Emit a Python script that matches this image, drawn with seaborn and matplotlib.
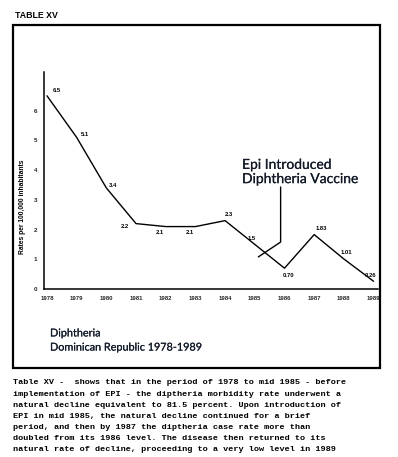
import matplotlib
matplotlib.use("Agg")
import matplotlib.pyplot as plt
import matplotlib.patheffects as pe
import seaborn as sns
import pandas as pd
from matplotlib.patches import Rectangle

# ---- data ----
years = [1978, 1979, 1980, 1981, 1982, 1983, 1984, 1985, 1986, 1987, 1988, 1989]
rates = [6.5, 5.1, 3.4, 2.2, 2.1, 2.1, 2.3, 1.5, 0.70, 1.83, 1.01, 0.26]
value_labels = ["6.5", "5.1", "3.4", "2.2", "2.1", "2.1", "2.3", "1.5", "0.70", "1.83", "1.01", "0.26"]
y_ticks = [0, 1, 2, 3, 4, 5, 6]
table_title = "TABLE XV"
y_title = "Rates per 100,000 inhabitants"
chart_title = "Diphtheria\nDominican Republic 1978-1989"
note_text = "Epi Introduced\nDiphtheria Vaccine"
caption_lines = [
    "Table XV -  shows that in the period of 1978 to mid 1985 - before",
    "implementation of EPI - the diptheria morbidity rate underwent a",
    "natural decline equivalent to 81.5 percent. Upon introduction of",
    "EPI in mid 1985, the natural decline continued for a brief",
    "period, and then by 1987 the diptheria case rate more than",
    "doubled from its 1986 level. The disease then returned to its",
    "natural rate of decline, proceeding to a very low level in 1989",
]

df = pd.DataFrame({"year": years, "rate": rates})

sns.set_style("white")
plt.rcParams["font.family"] = ["Liberation Sans", "DejaVu Sans"]

W, H = 398, 457
fig = plt.figure(figsize=(W / 100, H / 100), dpi=100)
fig.patch.set_facecolor("white")

def fx(px):
    return px / W

def fy(py):
    return 1 - py / H

ax = fig.add_axes([fx(44), fy(289), (378 - 44) / W, (289 - 72) / H])
sns.lineplot(data=df, x="year", y="rate", ax=ax, color="black", linewidth=1.0)
ax.set_xlim(1977.9, 1989.15)
ax.set_ylim(0, 7.3)
ax.set_xticks(years)
ax.set_xticklabels([str(y) for y in years], fontsize=4.3, fontweight="bold")
ax.set_yticks(y_ticks)
ax.set_yticklabels([str(t) for t in y_ticks], fontsize=4.5, fontweight="bold")
ax.tick_params(axis="both", length=3, width=0.9, pad=2, color="black", direction="out")
ax.set_xlabel("")
ax.set_ylabel("")
for s in ["top", "right"]:
    ax.spines[s].set_visible(False)
for s in ["left", "bottom"]:
    ax.spines[s].set_color("black")
    ax.spines[s].set_linewidth(1.1)
ax.patch.set_alpha(0)

# value labels (offsets in points: style only)
label_offsets = [(4, 4, "left"), (3, 2, "left"), (2, 2, "left"), (-5, -2, "right"),
                 (-4, -4, "center"), (-4, -4, "center"), (3, 4.5, "center"), (-2, 4.5, "center"),
                 (3, -5, "center"), (5, 4.5, "center"), (2, 4.5, "center"), (-2, 4.5, "center")]
for yr, v, lab, (dx, dy, ha) in zip(years, rates, value_labels, label_offsets):
    ax.annotate(lab, (yr, v), xytext=(dx, dy), textcoords="offset points",
                ha=ha, va="center", fontsize=4.2, fontweight="bold", color="black")

# annotation pointer
ax.plot([1985.87, 1985.87, 1985.12], [3.43, 1.58, 1.08], color="black", linewidth=1.0,
        solid_joinstyle="miter")

ink = "#121a28"
thick = [pe.withStroke(linewidth=0.12, foreground=ink)]

# annotation text
fig.text(fx(242), fy(172), note_text, fontsize=10, family=["Lato", "DejaVu Sans"],
         color=ink, ha="left", va="center", linespacing=1.22, path_effects=thick)

# y-axis title
fig.text(fx(23), fy(207), y_title, rotation=90, fontsize=4.8, fontweight="bold",
         ha="center", va="center", color="black")

# chart title
fig.text(fx(50), fy(340), chart_title, fontsize=7.8, family=["Lato", "DejaVu Sans"],
         color=ink, ha="left", va="center", linespacing=1.35, path_effects=thick)

# table header
fig.text(fx(15), fy(15), table_title, fontsize=6.3, fontweight="bold", ha="left",
         va="center", color="black")

# outer frame
fig.patches.append(Rectangle((fx(13), fy(368)), (380 - 13) / W, (368 - 25) / H,
                             transform=fig.transFigure, fill=False, edgecolor="black",
                             linewidth=1.6))

# caption, one line at a time
for i, line in enumerate(caption_lines):
    fig.text(fx(13), fy(383 + i * 11.15), line, fontsize=6.1, fontweight="bold",
             family=["Liberation Mono", "DejaVu Sans Mono"], ha="left", va="center",
             color="black")

fig.savefig("out.png", dpi=100, facecolor="white")
